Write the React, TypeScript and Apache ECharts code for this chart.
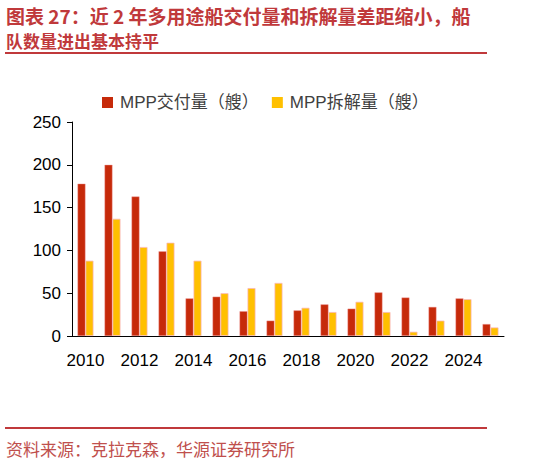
import React, { useEffect, useRef } from "react";
import * as echarts from "echarts";

const years = ["2010", "2011", "2012", "2013", "2014", "2015", "2016", "2017", "2018", "2019", "2020", "2021", "2022", "2023", "2024", "2025"];
const deliveries = [178, 200, 163, 99, 44, 46, 29, 18, 30, 37, 32, 51, 45, 34, 44, 14];
const demolitions = [88, 137, 104, 109, 88, 50, 56, 62, 33, 28, 40, 28, 5, 18, 43, 10];
const seriesNames = ["MPP交付量（艘）", "MPP拆解量（艘）"];
const titleLine1 = "图表 27：近 2 年多用途船交付量和拆解量差距缩小，船";
const titleLine2 = "队数量进出基本持平";
const sourceText = "资料来源：克拉克森，华源证券研究所";

const RED = "#C62A0A";
const YELLOW = "#FFC000";
const BRAND = "#C0393B";
const CJK = "'Noto Sans CJK SC', sans-serif";
const LATIN = "'Liberation Sans', 'Noto Sans CJK SC', sans-serif";

export default function App() {
  const ref = useRef<HTMLDivElement>(null);
  useEffect(() => {
    if (!ref.current) return;
    const chart = echarts.init(ref.current, undefined, { renderer: "svg" });
    chart.setOption({
      animation: false,
      backgroundColor: "#ffffff",
      legend: {
        left: 97,
        top: 89,
        itemWidth: 11,
        itemHeight: 11,
        itemGap: 13,
        icon: "rect",
        itemStyle: { borderWidth: 0 },
        textStyle: { fontFamily: LATIN, fontSize: 17, color: "#404040", padding: [0, 0, 0, 2] },
        data: seriesNames,
      },
      grid: { left: 72, top: 122, width: 432, bottom: 125, containLabel: false },
      xAxis: {
        type: "category",
        data: years,
        boundaryGap: true,
        axisLine: { lineStyle: { color: "#000", width: 1 } },
        axisTick: { interval: 1, length: 7, lineStyle: { color: "#000" } },
        axisLabel: { interval: 1, fontFamily: LATIN, fontSize: 17, color: "#000", margin: 16 },
      },
      yAxis: {
        type: "value",
        min: 0,
        max: 250,
        interval: 50,
        splitLine: { show: false },
        axisLine: { show: true, lineStyle: { color: "#000", width: 1 } },
        axisTick: { show: true, length: 5, lineStyle: { color: "#000" } },
        axisLabel: { fontFamily: LATIN, fontSize: 17, color: "#000", margin: 11 },
      },
      series: [
        {
          name: seriesNames[0],
          type: "bar",
          data: deliveries,
          barWidth: 8,
          barGap: "0%",
          itemStyle: { color: RED, borderColor: "rgba(240,150,150,0.7)", borderWidth: 0.6 },
        },
        {
          name: seriesNames[1],
          type: "bar",
          data: demolitions,
          barWidth: 8,
          barGap: "0%",
          itemStyle: { color: YELLOW, borderColor: "rgba(250,180,190,0.9)", borderWidth: 0.8 },
        },
      ],
      graphic: [
        {
          type: "text",
          x: 6,
          y: 15,
          style: {
            text: titleLine1,
            fontFamily: CJK,
            fontSize: 19,
            fontWeight: "bold",
            fill: BRAND,
            textVerticalAlign: "middle",
          },
        },
        {
          type: "text",
          x: 6,
          y: 40,
          style: {
            text: titleLine2,
            fontFamily: CJK,
            fontSize: 17,
            fontWeight: "bold",
            fill: BRAND,
            textVerticalAlign: "middle",
          },
        },
        {
          type: "line",
          shape: { x1: 5, y1: 53, x2: 487, y2: 53 },
          style: { stroke: BRAND, lineWidth: 2 },
        },
        {
          type: "line",
          shape: { x1: 5, y1: 428, x2: 487, y2: 428 },
          style: { stroke: BRAND, lineWidth: 2 },
        },
        {
          type: "text",
          x: 6,
          y: 448,
          style: {
            text: sourceText,
            fontFamily: CJK,
            fontSize: 17,
            fill: "#C0504D",
            textVerticalAlign: "middle",
          },
        },
      ],
    });
    return () => chart.dispose();
  }, []);
  return (
    <div
      ref={ref}
      style={{ position: "fixed", left: 0, top: 0, width: 537, height: 461, background: "#fff" }}
    />
  );
}
